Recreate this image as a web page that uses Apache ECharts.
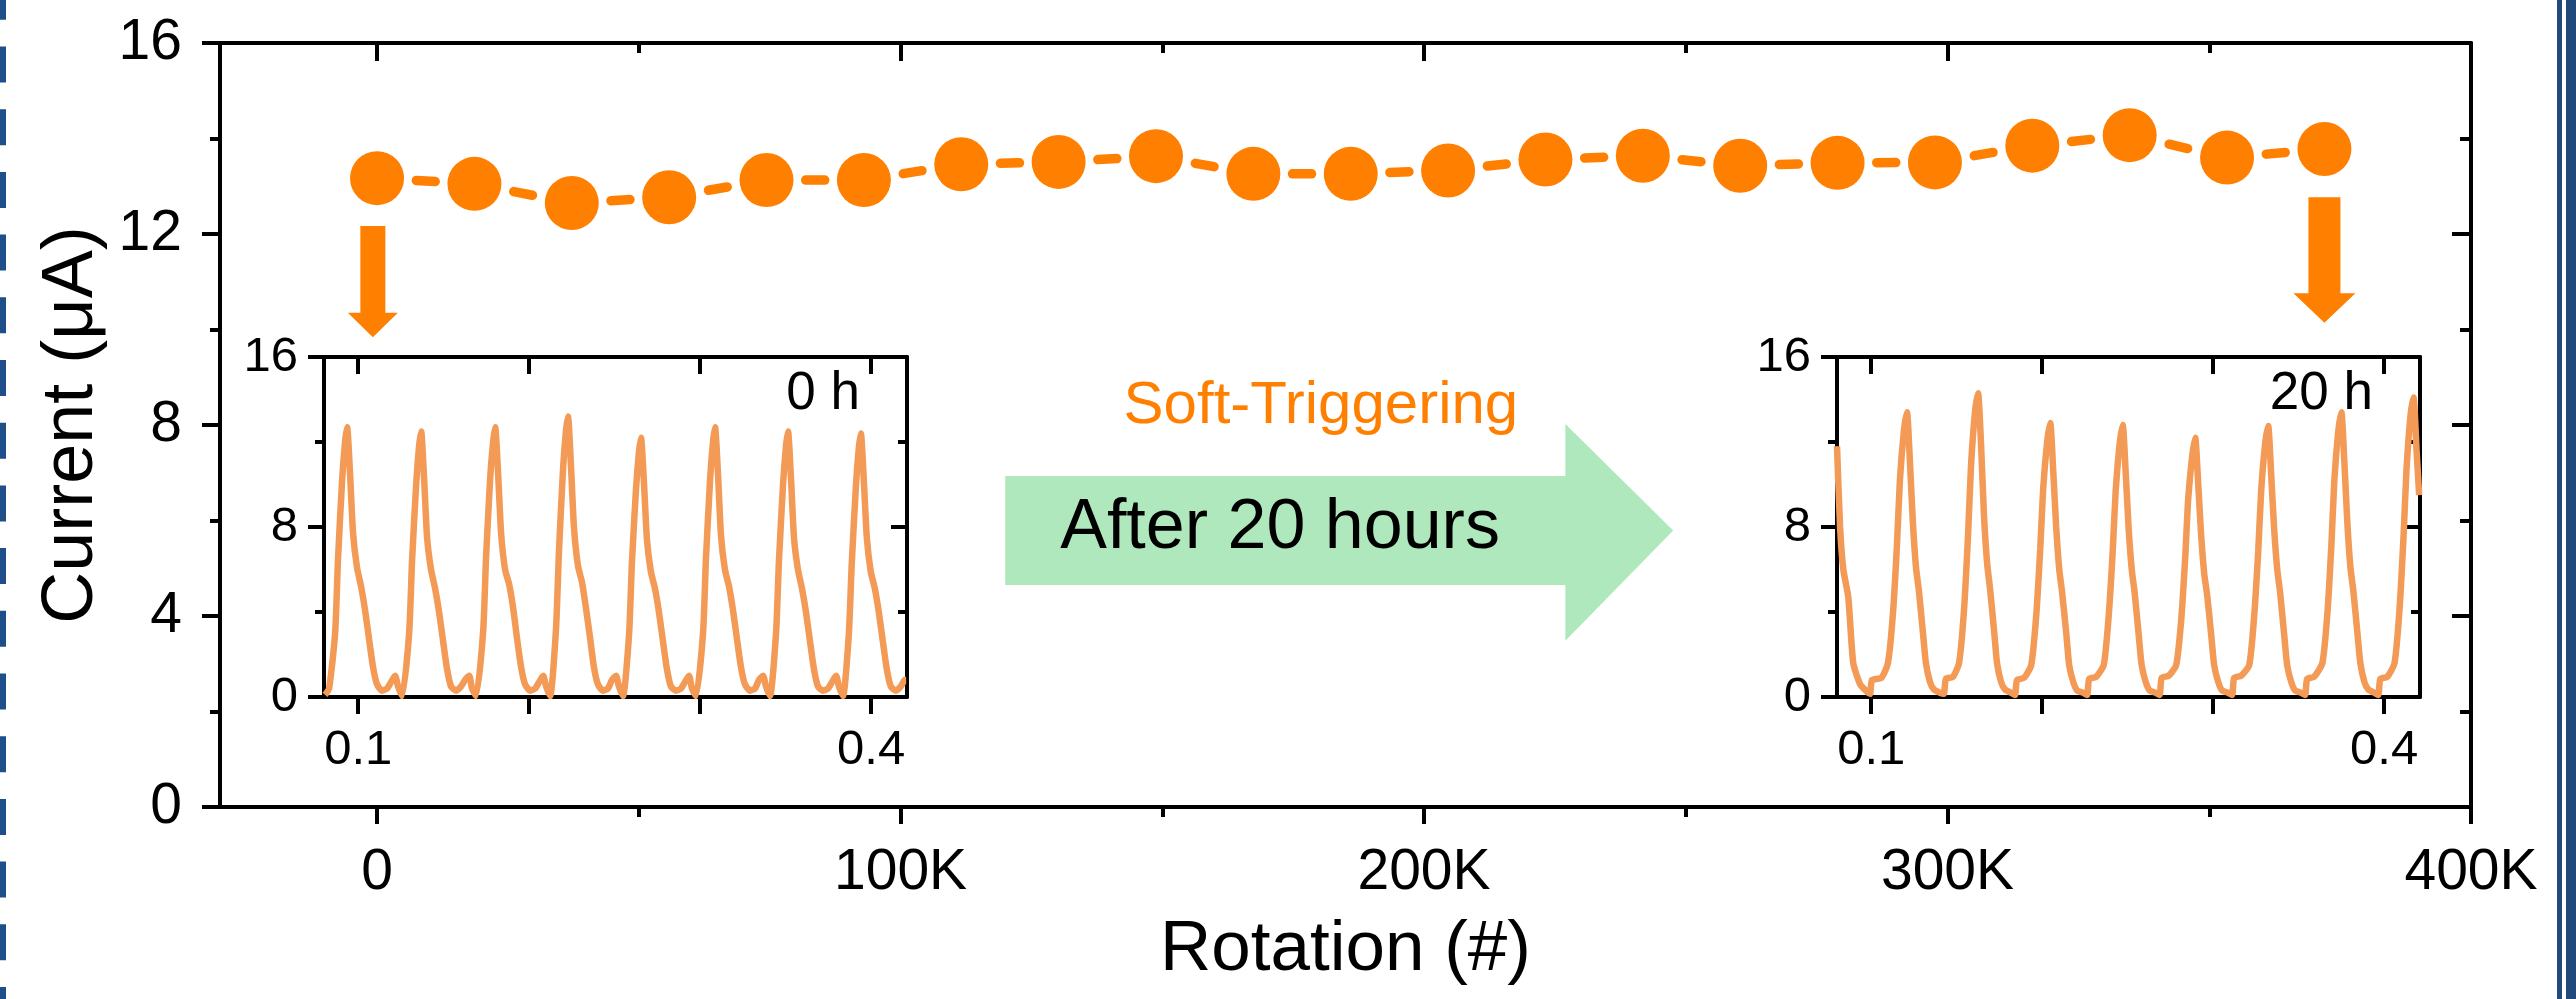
<!DOCTYPE html>
<html>
<head>
<meta charset="utf-8">
<script src="https://cdn.jsdelivr.net/npm/echarts@6/dist/echarts.min.js"></script>
<style>
html,body{margin:0;padding:0;background:#ffffff;}
#c{width:2576px;height:999px;}
</style>
</head>
<body>
<div id="c"></div>
<script>
// ---------- data ----------
const rotations = [0, 18600, 37200, 55800, 74400, 93000, 111600, 130200, 148800, 167400, 186000,
  204600, 223200, 241800, 260400, 279000, 297600, 316200, 334800, 353400, 372000];
const currents = [13.17, 13.05, 12.65, 12.77, 13.13, 13.13, 13.46, 13.51, 13.63, 13.26, 13.26,
  13.33, 13.56, 13.64, 13.43, 13.49, 13.50, 13.85, 14.07, 13.60, 13.78];

const xMajorTicks = [0, 100000, 200000, 300000, 400000];
const xTickLabels = ['0', '100K', '200K', '300K', '400K'];
const xMinorTicks = [50000, 150000, 250000, 350000];
const insetTicks = [0.1, 0.2, 0.3, 0.4];
const insetLabels = [0.1, 0.4];

// inset "0 h" waveform
const inset0hX = [0.0806,0.0830,
0.0865,0.0882,0.0906,0.0923,0.0935,0.0953,0.0970,0.0993,0.1017,0.1040,0.1064,0.1087,0.1110,0.1140,0.1169,0.1192,0.1216,0.1233,0.1257,
0.1298,0.1315,0.1339,0.1356,0.1368,0.1386,0.1403,0.1426,0.1450,0.1473,0.1497,0.1520,0.1543,0.1573,0.1602,0.1625,0.1649,0.1666,0.1690,
0.1731,0.1748,0.1772,0.1789,0.1801,0.1819,0.1836,0.1859,0.1883,0.1906,0.1930,0.1953,0.1976,0.2006,0.2035,0.2058,0.2082,0.2099,0.2123,
0.2157,0.2174,0.2198,0.2215,0.2227,0.2245,0.2262,0.2285,0.2309,0.2332,0.2356,0.2379,0.2402,0.2432,0.2461,0.2484,0.2508,0.2525,0.2549,
0.2584,0.2601,0.2625,0.2642,0.2654,0.2672,0.2689,0.2712,0.2736,0.2759,0.2783,0.2806,0.2829,0.2859,0.2888,0.2911,0.2935,0.2952,0.2976,
0.3017,0.3034,0.3058,0.3075,0.3087,0.3105,0.3122,0.3145,0.3169,0.3192,0.3216,0.3239,0.3262,0.3292,0.3321,0.3344,0.3368,0.3385,0.3409,
0.3444,0.3461,0.3485,0.3502,0.3514,0.3532,0.3549,0.3572,0.3596,0.3619,0.3643,0.3666,0.3689,0.3719,0.3748,0.3771,0.3795,0.3812,0.3836,
0.3870,0.3887,0.3911,0.3928,0.3940,0.3958,0.3975,0.3998,0.4022,0.4045,0.4069,0.4092,0.4115,0.4145,0.4174,0.4197,0.4205];
const inset0hY = [0.1,0.4,
3.0,6.5,10.2,12.0,12.7,10.4,7.7,6.1,5.2,4.1,2.7,1.4,0.6,0.3,0.4,0.7,1.0,0.5,0.05,
3.0,6.4,10.0,11.8,12.5,10.2,7.5,6.0,5.1,4.0,2.6,1.3,0.5,0.3,0.5,0.8,1.0,0.4,0.05,
3.1,6.6,10.3,12.0,12.7,10.4,7.7,6.0,5.3,4.2,2.7,1.4,0.6,0.3,0.4,0.7,1.0,0.5,0.05,
3.2,6.8,10.7,12.5,13.2,10.8,8.0,6.2,5.4,4.2,2.8,1.4,0.6,0.3,0.4,0.8,1.0,0.5,0.05,
2.9,6.3,9.8,11.5,12.2,10.0,7.4,5.9,5.1,4.0,2.6,1.3,0.5,0.3,0.4,0.7,1.0,0.4,0.05,
3.0,6.5,10.2,12.0,12.7,10.4,7.6,6.0,5.2,4.1,2.7,1.4,0.6,0.3,0.4,0.8,1.0,0.5,0.05,
3.0,6.4,10.0,11.8,12.5,10.2,7.5,6.0,5.1,4.0,2.6,1.3,0.5,0.3,0.4,0.7,1.0,0.5,0.05,
3.0,6.3,9.9,11.7,12.4,10.1,7.5,5.9,5.1,4.0,2.6,1.3,0.5,0.3,0.5,0.8,0.8];

// inset "20 h" waveform
const inset20hX = [0.0800,0.0818,0.0837,0.0866,0.0895,0.0935,0.0975,0.0993,0.1005,0.1060,
0.1098,0.1127,0.1151,0.1168,0.1191,0.1209,0.1227,0.1244,0.1262,0.1279,0.1303,0.1320,0.1344,0.1367,0.1402,0.1425,0.1437,0.1478,
0.1514,0.1543,0.1567,0.1584,0.1607,0.1625,0.1643,0.1660,0.1678,0.1695,0.1719,0.1736,0.1760,0.1783,0.1818,0.1841,0.1853,0.1894,
0.1936,0.1965,0.1989,0.2006,0.2029,0.2047,0.2065,0.2082,0.2100,0.2117,0.2141,0.2158,0.2182,0.2205,0.2240,0.2263,0.2275,0.2316,
0.2360,0.2389,0.2413,0.2430,0.2453,0.2471,0.2489,0.2506,0.2524,0.2541,0.2565,0.2582,0.2606,0.2629,0.2664,0.2687,0.2699,0.2740,
0.2784,0.2813,0.2837,0.2854,0.2877,0.2895,0.2913,0.2930,0.2948,0.2965,0.2989,0.3006,0.3030,0.3053,0.3088,0.3111,0.3123,0.3164,
0.3211,0.3240,0.3264,0.3281,0.3304,0.3322,0.3340,0.3357,0.3375,0.3392,0.3416,0.3433,0.3457,0.3480,0.3515,0.3538,0.3550,0.3591,
0.3639,0.3668,0.3692,0.3709,0.3732,0.3750,0.3768,0.3785,0.3803,0.3820,0.3844,0.3861,0.3885,0.3908,0.3943,0.3966,0.3978,0.4019,
0.4061,0.4090,0.4114,0.4131,0.4154,0.4172,0.4190,0.4205];
const inset20hY = [11.8,8.0,6.0,4.7,1.6,0.6,0.25,0.15,0.8,0.9,
1.6,3.9,7.2,10.2,12.5,13.4,11.0,8.2,6.1,5.0,3.0,1.6,0.7,0.35,0.2,0.15,0.85,0.95,
1.6,4.1,7.7,10.9,13.4,14.3,11.8,8.5,6.3,5.1,3.1,1.6,0.7,0.35,0.2,0.1,0.8,0.9,
1.5,3.8,7.0,9.8,12.0,12.9,10.6,8.0,6.0,4.9,3.0,1.5,0.7,0.3,0.2,0.1,0.85,0.95,
1.5,3.8,6.9,9.7,11.9,12.8,10.5,7.9,6.0,4.9,2.9,1.5,0.7,0.3,0.2,0.1,0.9,1.0,
1.5,3.6,6.6,9.3,11.3,12.2,10.0,7.6,5.8,4.8,2.9,1.5,0.7,0.3,0.2,0.1,0.9,1.0,
1.5,3.8,6.9,9.7,11.9,12.75,10.4,7.9,6.0,4.9,2.9,1.5,0.7,0.3,0.2,0.1,0.85,0.95,
1.6,3.9,7.2,10.2,12.5,13.4,11.0,8.2,6.1,5.0,3.0,1.6,0.7,0.35,0.2,0.1,0.85,0.95,
1.6,4.1,7.6,10.7,13.2,14.1,11.6,9.5];

// ---------- style ----------
const FONT = "'Liberation Sans', Arial, Helvetica, sans-serif";
const ORANGE = '#FF8000';
const INSET_ORANGE = '#F29A56';
const BLACK = '#000000';

const chart = echarts.init(document.getElementById('c'), null, {renderer: 'canvas', width: 2576, height: 999});

function axisBase(extra) {
  return Object.assign({
    type: 'value',
    splitLine: {show: false},
    axisLine: {show: true, onZero: false, lineStyle: {color: BLACK, width: 4}},
    axisLabel: {show: false},
    axisTick: {show: false},
    minorTick: {show: false}
  }, extra);
}

const mainX = {min: -30000, max: 400000};
const mainY = {min: 0, max: 16, interval: 4};
const insetX = {min: 0.08, max: 0.421};
const insetY = {min: 0, max: 16, interval: 8};

const tickLine = {color: BLACK, width: 4};

const xAxes = [
  // 0 main bottom (major)
  axisBase(Object.assign({gridIndex: 0, position: 'bottom',
    axisTick: {show: true, inside: false, length: 17, lineStyle: tickLine, customValues: xMajorTicks},
    axisLabel: {show: true, customValues: xMajorTicks, formatter: v => xTickLabels[xMajorTicks.indexOf(v)],
      fontSize: 57, margin: 38, color: BLACK, fontFamily: FONT},
    name: 'Rotation (#)', nameLocation: 'middle', nameGap: 108,
    nameTextStyle: {fontSize: 71, color: BLACK, fontFamily: FONT}}, mainX)),
  // 1 main bottom (minor)
  axisBase(Object.assign({gridIndex: 0, position: 'bottom', axisLine: {show: false, onZero: false},
    axisTick: {show: true, inside: false, length: 10, lineStyle: tickLine, customValues: xMinorTicks}}, mainX)),
  // 2 main top (major)
  axisBase(Object.assign({gridIndex: 0, position: 'top',
    axisTick: {show: true, inside: true, length: 18, lineStyle: tickLine, customValues: xMajorTicks}}, mainX)),
  // 3 main top (minor)
  axisBase(Object.assign({gridIndex: 0, position: 'top', axisLine: {show: false, onZero: false},
    axisTick: {show: true, inside: true, length: 10, lineStyle: tickLine, customValues: xMinorTicks}}, mainX)),
  // 4 inset 0h bottom
  axisBase(Object.assign({gridIndex: 1, position: 'bottom',
    axisTick: {show: true, inside: false, length: 17, lineStyle: tickLine, customValues: insetTicks},
    axisLabel: {show: true, customValues: insetLabels, formatter: v => v.toFixed(1),
      fontSize: 49, margin: 29, color: BLACK, fontFamily: FONT}}, insetX)),
  // 5 inset 0h top
  axisBase(Object.assign({gridIndex: 1, position: 'top',
    axisTick: {show: true, inside: true, length: 17, lineStyle: tickLine, customValues: insetTicks}}, insetX)),
  // 6 inset 20h bottom
  axisBase(Object.assign({gridIndex: 2, position: 'bottom',
    axisTick: {show: true, inside: false, length: 17, lineStyle: tickLine, customValues: insetTicks},
    axisLabel: {show: true, customValues: insetLabels, formatter: v => v.toFixed(1),
      fontSize: 49, margin: 29, color: BLACK, fontFamily: FONT}}, insetX)),
  // 7 inset 20h top
  axisBase(Object.assign({gridIndex: 2, position: 'top',
    axisTick: {show: true, inside: true, length: 17, lineStyle: tickLine, customValues: insetTicks}}, insetX))
];

const yAxes = [
  // 0 main left
  axisBase(Object.assign({gridIndex: 0, position: 'left',
    axisTick: {show: true, inside: false, length: 18, lineStyle: tickLine},
    minorTick: {show: true, splitNumber: 2, length: 10, lineStyle: tickLine},
    axisLabel: {show: true, fontSize: 57, margin: 38, color: BLACK, fontFamily: FONT},
    name: 'Current (μA)', nameLocation: 'middle', nameGap: 112, nameRotate: 90,
    nameTextStyle: {fontSize: 72, color: BLACK, fontFamily: FONT}}, mainY)),
  // 1 main right
  axisBase(Object.assign({gridIndex: 0, position: 'right',
    axisTick: {show: true, inside: true, length: 19, lineStyle: tickLine},
    minorTick: {show: true, splitNumber: 2, length: 11, lineStyle: tickLine}}, mainY)),
  // 2 inset 0h left
  axisBase(Object.assign({gridIndex: 1, position: 'left',
    axisTick: {show: true, inside: false, length: 16, lineStyle: tickLine},
    minorTick: {show: true, splitNumber: 2, length: 9, lineStyle: tickLine},
    axisLabel: {show: true, fontSize: 49, margin: 26, color: BLACK, fontFamily: FONT}}, insetY)),
  // 3 inset 0h right
  axisBase(Object.assign({gridIndex: 1, position: 'right',
    axisTick: {show: true, inside: true, length: 16, lineStyle: tickLine},
    minorTick: {show: true, splitNumber: 2, length: 9, lineStyle: tickLine}}, insetY)),
  // 4 inset 20h left
  axisBase(Object.assign({gridIndex: 2, position: 'left',
    axisTick: {show: true, inside: false, length: 16, lineStyle: tickLine},
    minorTick: {show: true, splitNumber: 2, length: 9, lineStyle: tickLine},
    axisLabel: {show: true, fontSize: 49, margin: 26, color: BLACK, fontFamily: FONT}}, insetY)),
  // 5 inset 20h right
  axisBase(Object.assign({gridIndex: 2, position: 'right',
    axisTick: {show: true, inside: true, length: 16, lineStyle: tickLine},
    minorTick: {show: true, splitNumber: 2, length: 9, lineStyle: tickLine}}, insetY))
];

const segData = [];
for (let i = 1; i < rotations.length; i++) {
  segData.push([rotations[i - 1], currents[i - 1], rotations[i], currents[i]]);
}

chart.setOption({
  animation: false,
  backgroundColor: '#ffffff',
  grid: [
    {left: 220, top: 43, width: 2251, height: 764, containLabel: false},
    {left: 324, top: 357, width: 583, height: 340, containLabel: false},
    {left: 1837, top: 357, width: 583, height: 340, containLabel: false}
  ],
  xAxis: xAxes,
  yAxis: yAxes,
  series: [
    {
      type: 'custom', xAxisIndex: 0, yAxisIndex: 0, data: segData,
      encode: {x: [0, 2], y: [1, 3]}, silent: true, z: 2,
      renderItem: function (params, api) {
        const a = api.coord([api.value(0), api.value(1)]);
        const b = api.coord([api.value(2), api.value(3)]);
        const mx = (a[0] + b[0]) / 2, my = (a[1] + b[1]) / 2;
        const dx = b[0] - a[0], dy = b[1] - a[1];
        const L = Math.sqrt(dx * dx + dy * dy);
        const ux = dx / L, uy = dy / L, h = 9.5;
        return {type: 'line', shape: {x1: mx - ux * h, y1: my - uy * h, x2: mx + ux * h, y2: my + uy * h},
          style: {stroke: ORANGE, lineWidth: 9.5, lineCap: 'round'}};
      }
    },
    {
      type: 'scatter', xAxisIndex: 0, yAxisIndex: 0, z: 3, silent: true,
      data: rotations.map((r, i) => [r, currents[i]]),
      symbol: 'circle', symbolSize: 54, itemStyle: {color: ORANGE, opacity: 1}
    },
    {
      type: 'line', xAxisIndex: 4, yAxisIndex: 2, silent: true,
      data: inset0hX.map((x, i) => [x, inset0hY[i]]),
      showSymbol: false, symbol: 'none', smooth: 0.2,
      lineStyle: {color: INSET_ORANGE, width: 6.5}
    },
    {
      type: 'line', xAxisIndex: 6, yAxisIndex: 4, silent: true,
      data: inset20hX.map((x, i) => [x, inset20hY[i]]),
      showSymbol: false, symbol: 'none', smooth: 0.2,
      lineStyle: {color: INSET_ORANGE, width: 6.5}
    }
  ]
});

// ---------- annotations placed through the axes ----------
const P = (x, y) => chart.convertToPixel({xAxisIndex: 0, yAxisIndex: 0}, [x, y]);
const PL = (x, y) => chart.convertToPixel({xAxisIndex: 4, yAxisIndex: 2}, [x, y]);
const PR = (x, y) => chart.convertToPixel({xAxisIndex: 6, yAxisIndex: 4}, [x, y]);

function downArrow(x, yTop, yNeck, yTip, shaftW, headW) {
  const t = P(x, yTop), n = P(x, yNeck), p = P(x, yTip);
  const cx = t[0];
  return {
    type: 'polygon', silent: true, z: 10,
    shape: {points: [[cx - shaftW / 2, t[1]], [cx + shaftW / 2, t[1]], [cx + shaftW / 2, n[1]],
      [cx + headW / 2, n[1]], [cx, p[1]], [cx - headW / 2, n[1]], [cx - shaftW / 2, n[1]]]},
    style: {fill: ORANGE}
  };
}

const g1 = P(120000, 6.93), g2 = P(227000, 6.93), g3 = P(227000, 8.02), gTip = P(247600, 5.79),
      g4 = P(227000, 3.48), g5 = P(227000, 4.65), g6 = P(120000, 4.65);
const softPos = P(180300, 8.38);
const afterPos = P(172500, 5.82);
const zeroHPos = PL(0.3935, 14.24);
const twentyHPos = PR(0.3935, 14.24);

chart.setOption({
  graphic: [
    downArrow(-800, 12.17, 10.35, 9.84, 25, 50),
    downArrow(372000, 12.77, 10.76, 10.14, 32, 62),
    {type: 'polygon', silent: true, z: 1,
      shape: {points: [g1, g2, g3, gTip, g4, g5, g6]}, style: {fill: '#AFE8BD'}},
    {type: 'text', silent: true, z: 12, x: softPos[0], y: softPos[1],
      style: {text: 'Soft-Triggering', fill: ORANGE, font: '60px ' + FONT, align: 'center', verticalAlign: 'middle'}},
    {type: 'text', silent: true, z: 12, x: afterPos[0], y: afterPos[1],
      style: {text: 'After 20 hours', fill: BLACK, font: '70px ' + FONT, align: 'center', verticalAlign: 'middle'}},
    {type: 'text', silent: true, z: 12, x: zeroHPos[0], y: zeroHPos[1],
      style: {text: '0 h', fill: BLACK, font: '53px ' + FONT, align: 'right', verticalAlign: 'middle'}},
    {type: 'text', silent: true, z: 12, x: twentyHPos[0], y: twentyHPos[1],
      style: {text: '20 h', fill: BLACK, font: '53px ' + FONT, align: 'right', verticalAlign: 'middle'}},
    // page frame decoration
    {type: 'line', silent: true, shape: {x1: 3, y1: 0, x2: 3, y2: 999},
      style: {stroke: '#1F4F8B', lineWidth: 6, lineDash: [36, 26.7], lineDashOffset: 16.2}},
    {type: 'rect', silent: true, shape: {x: 2557, y: 0, width: 5, height: 999}, style: {fill: '#21497C'}},
    {type: 'rect', silent: true, shape: {x: 2566, y: 0, width: 10, height: 999}, style: {fill: '#21497C'}}
  ]
});
</script>
</body>
</html>
